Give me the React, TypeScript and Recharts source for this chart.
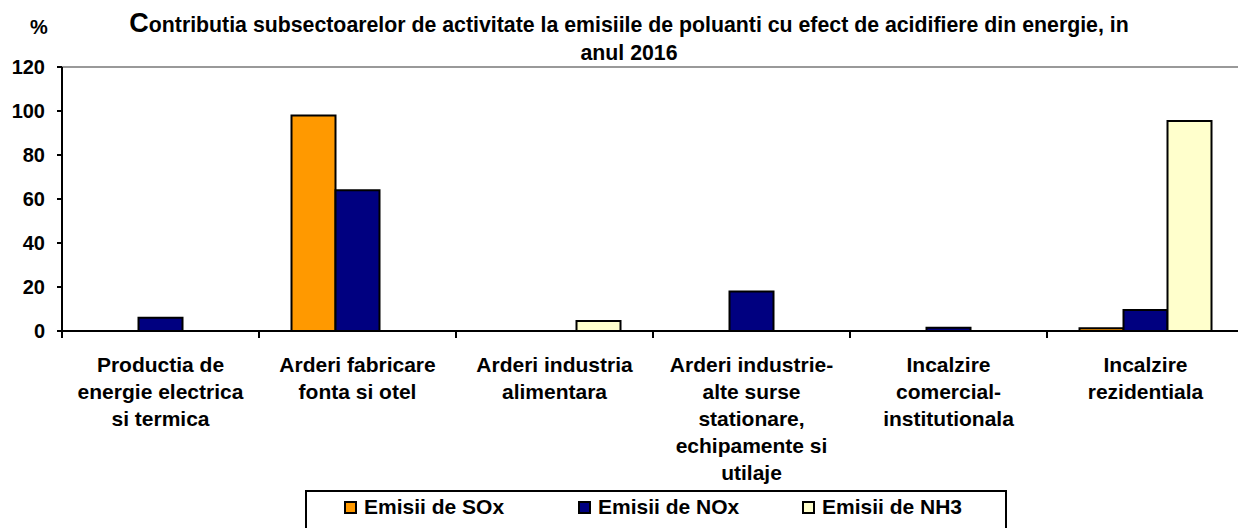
import React from 'react';
import { BarChart, Bar, XAxis, YAxis, ReferenceLine, Legend } from 'recharts';

const categories = [
  'Productia de energie electrica si termica',
  'Arderi fabricare fonta si otel',
  'Arderi industria alimentara',
  'Arderi industrie-alte surse stationare, echipamente si utilaje',
  'Incalzire comercial-institutionala',
  'Incalzire rezidentiala',
];
const categoryLines = [
  ['Productia de', 'energie electrica', 'si termica'],
  ['Arderi fabricare', 'fonta si otel'],
  ['Arderi industria', 'alimentara'],
  ['Arderi industrie-', 'alte surse', 'stationare,', 'echipamente si', 'utilaje'],
  ['Incalzire', 'comercial-', 'institutionala'],
  ['Incalzire', 'rezidentiala'],
];
const soxValues = [0, 98, 0, 0, 0, 1.2];
const noxValues = [6, 64, 0, 18, 1.5, 9.5];
const nh3Values = [0, 0, 4.5, 0, 0, 95.5];
const yTicks = [0, 20, 40, 60, 80, 100, 120];
const seriesNames = ['Emisii de SOx', 'Emisii de NOx', 'Emisii de NH3'];
const seriesColors = ['#FF9900', '#000080', '#FFFFCC'];

const data = categories.map((c, i) => ({
  name: c,
  sox: soxValues[i],
  nox: noxValues[i],
  nh3: nh3Values[i],
}));

const FONT = '"Liberation Sans", Arial, sans-serif';

const XTick = (props: any) => {
  const { x, y, payload, index, visibleTicksCount } = props;
  const half = payload && payload.offset ? payload.offset : 98.5;
  const lines = categoryLines[index] || [];
  const last = index === (visibleTicksCount ?? categories.length) - 1;
  return (
    <g>
      <line x1={x - half} x2={x - half} y1={y} y2={y + 7} stroke="#000" strokeWidth={2} />
      {last && <line x1={x + half} x2={x + half} y1={y} y2={y + 7} stroke="#000" strokeWidth={2} />}
      <text x={x} y={y + 41} textAnchor="middle" fontFamily={FONT} fontWeight="bold" fontSize={21} fill="#000">
        {lines.map((l, i) => (
          <tspan key={i} x={x} dy={i === 0 ? 0 : 27}>{l}</tspan>
        ))}
      </text>
    </g>
  );
};

const LegendContent = (props: any) => {
  const payload = [...(props.payload || [])].sort(
    (a: any, b: any) => seriesNames.indexOf(a.value) - seriesNames.indexOf(b.value)
  );
  const lefts = [37, 271, 495];
  return (
    <div style={{ position: 'relative', width: 702, height: 45, border: '2px solid #000', boxSizing: 'border-box', background: '#fff' }}>
      {payload.map((p: any, i: number) => (
        <div key={i} style={{ position: 'absolute', left: lefts[i], top: 3, display: 'flex', alignItems: 'center', whiteSpace: 'nowrap' }}>
          <span style={{ display: 'inline-block', width: 13, height: 13, background: p.color, border: '2px solid #000', boxSizing: 'border-box', marginRight: 7 }} />
          <span style={{ fontFamily: FONT, fontWeight: 'bold', fontSize: 21, color: '#000', lineHeight: '24px' }}>{p.value}</span>
        </div>
      ))}
    </div>
  );
};

export default function App() {
  return (
    <div style={{ position: 'absolute', left: 0, top: 0, width: 1238, height: 528, overflow: 'hidden', background: '#fff' }}>
      <BarChart
        width={1260}
        height={528}
        data={data}
        margin={{ top: 67, right: 16, left: 0, bottom: 0 }}
        barCategoryGap="16.5%"
        barGap={0}
      >
        <ReferenceLine y={120} stroke="#999" strokeWidth={2} />
        <XAxis
          dataKey="name"
          height={197}
          interval={0}
          tickSize={0}
          tickMargin={0}
          tickLine={false}
          axisLine={{ stroke: '#000', strokeWidth: 2 }}
          tick={<XTick />}
        />
        <YAxis
          width={62}
          domain={[0, 120]}
          ticks={yTicks}
          interval={0}
          tickSize={5}
          tickMargin={12}
          tickLine={{ stroke: '#000', strokeWidth: 2 }}
          axisLine={{ stroke: '#000', strokeWidth: 2 }}
          tick={{ fill: '#000', fontFamily: FONT, fontWeight: 'bold', fontSize: 20 }}
        />
        <Legend
          layout="horizontal"
          verticalAlign="middle"
          align="center"
          content={<LegendContent />}
          wrapperStyle={{ position: 'absolute', left: 305, top: 490, width: 702, height: 45, margin: 0 }}
        />
        <Bar dataKey="sox" name={seriesNames[0]} fill={seriesColors[0]} stroke="#000" strokeWidth={2} isAnimationActive={false} />
        <Bar dataKey="nox" name={seriesNames[1]} fill={seriesColors[1]} stroke="#000" strokeWidth={2} isAnimationActive={false} />
        <Bar dataKey="nh3" name={seriesNames[2]} fill={seriesColors[2]} stroke="#000" strokeWidth={2} isAnimationActive={false} />
      </BarChart>
      <svg width={1238} height={80} style={{ position: 'absolute', left: 0, top: 0, pointerEvents: 'none' }}>
        <text x={39} y={34} textAnchor="middle" fontFamily={FONT} fontWeight="bold" fontSize={20} fill="#000">%</text>
        <text x={629} y={32} textAnchor="middle" fontFamily={FONT} fontWeight="bold" fontSize={21.3} fill="#000">
          <tspan fontSize={27}>C</tspan>
          <tspan>ontributia subsectoarelor de activitate la emisiile de poluanti cu efect de acidifiere din energie, in</tspan>
        </text>
        <text x={629} y={60} textAnchor="middle" fontFamily={FONT} fontWeight="bold" fontSize={21.3} fill="#000">anul 2016</text>
      </svg>
    </div>
  );
}
